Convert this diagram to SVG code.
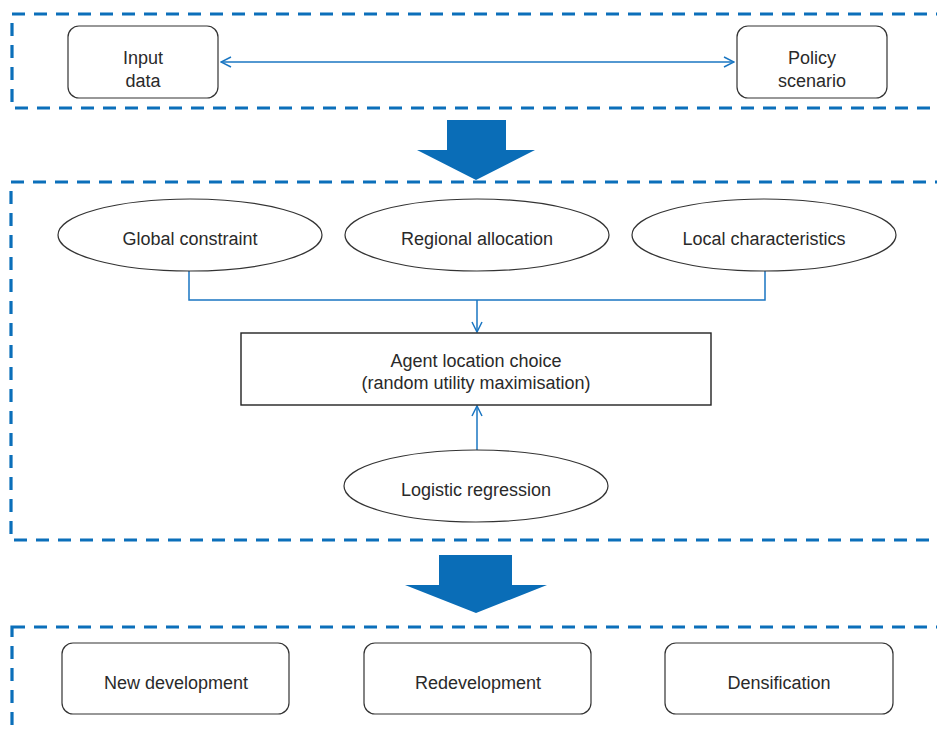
<svg xmlns="http://www.w3.org/2000/svg" width="937" height="729" viewBox="0 0 937 729">
<defs>
<style>
.frame{fill:none;stroke:#0b6fba;stroke-width:3.2;stroke-dasharray:13 9}
.node{fill:#fff;stroke:#333;stroke-width:1.2}
.t{font-family:"Liberation Sans",Arial,sans-serif;font-size:18px;fill:#2a2a2a;text-anchor:middle}
.conn{fill:none;stroke:#1a76c2;stroke-width:1.5}
.big{fill:#0a6db7}
</style>
<marker id="ah" viewBox="0 0 12 12" refX="11" refY="6" markerWidth="12" markerHeight="12" markerUnits="userSpaceOnUse" orient="auto-start-reverse">
<path d="M1,1 L11,6 L1,11" fill="none" stroke="#1a76c2" stroke-width="1.5"/>
</marker>
</defs>
<rect width="937" height="729" fill="#fff"/>
<g id="frames">
<rect class="frame" x="12" y="14" width="940" height="94"/>
<rect class="frame" x="11" y="182" width="940" height="358"/>
<rect class="frame" x="12" y="627" width="940" height="110"/>
</g>
<g id="bigarrows">
<polygon class="big" points="447,120 506,120 506,150 535,150 476,180 417,150 447,150"/>
<polygon class="big" points="439,555 512,555 512,585 547,585 476,613 405,585 439,585"/>
</g>
<g id="connectors">
<line class="conn" x1="221" y1="62" x2="734" y2="62" marker-start="url(#ah)" marker-end="url(#ah)"/>
<polyline class="conn" points="189,271 189,300 765,300 765,271"/>
<line class="conn" x1="477" y1="300" x2="477" y2="332" marker-end="url(#ah)"/>
<line class="conn" x1="477" y1="453" x2="477" y2="406" marker-end="url(#ah)"/>
</g>
<g id="input-data">
<rect class="node" x="68" y="26" width="150" height="72" rx="11"/>
<text class="t" x="143" y="64">Input</text>
<text class="t" x="143" y="87">data</text>
</g>
<g id="policy-scenario">
<rect class="node" x="737" y="26" width="150" height="72" rx="11"/>
<text class="t" x="812" y="64">Policy</text>
<text class="t" x="812" y="87">scenario</text>
</g>
<g id="global-constraint">
<ellipse class="node" cx="190" cy="235" rx="132" ry="36"/>
<text class="t" x="190" y="245">Global constraint</text>
</g>
<g id="regional-allocation">
<ellipse class="node" cx="477" cy="235" rx="132" ry="36"/>
<text class="t" x="477" y="245">Regional allocation</text>
</g>
<g id="local-characteristics">
<ellipse class="node" cx="764" cy="235" rx="132" ry="36"/>
<text class="t" x="764" y="245">Local characteristics</text>
</g>
<g id="agent-location-choice">
<rect class="node" x="241" y="333" width="470" height="72" fill="#fff" style="stroke:#222;stroke-width:1.4"/>
<text class="t" x="476" y="367">Agent location choice</text>
<text class="t" x="476" y="389">(random utility maximisation)</text>
</g>
<g id="logistic-regression">
<ellipse class="node" cx="476" cy="486" rx="132" ry="36"/>
<text class="t" x="476" y="496">Logistic regression</text>
</g>
<g id="new-development">
<rect class="node" x="62" y="643" width="227" height="71" rx="11"/>
<text class="t" x="176" y="689">New development</text>
</g>
<g id="redevelopment">
<rect class="node" x="364" y="643" width="227" height="71" rx="11"/>
<text class="t" x="478" y="689">Redevelopment</text>
</g>
<g id="densification">
<rect class="node" x="665" y="643" width="228" height="71" rx="11"/>
<text class="t" x="779" y="689">Densification</text>
</g>
</svg>
